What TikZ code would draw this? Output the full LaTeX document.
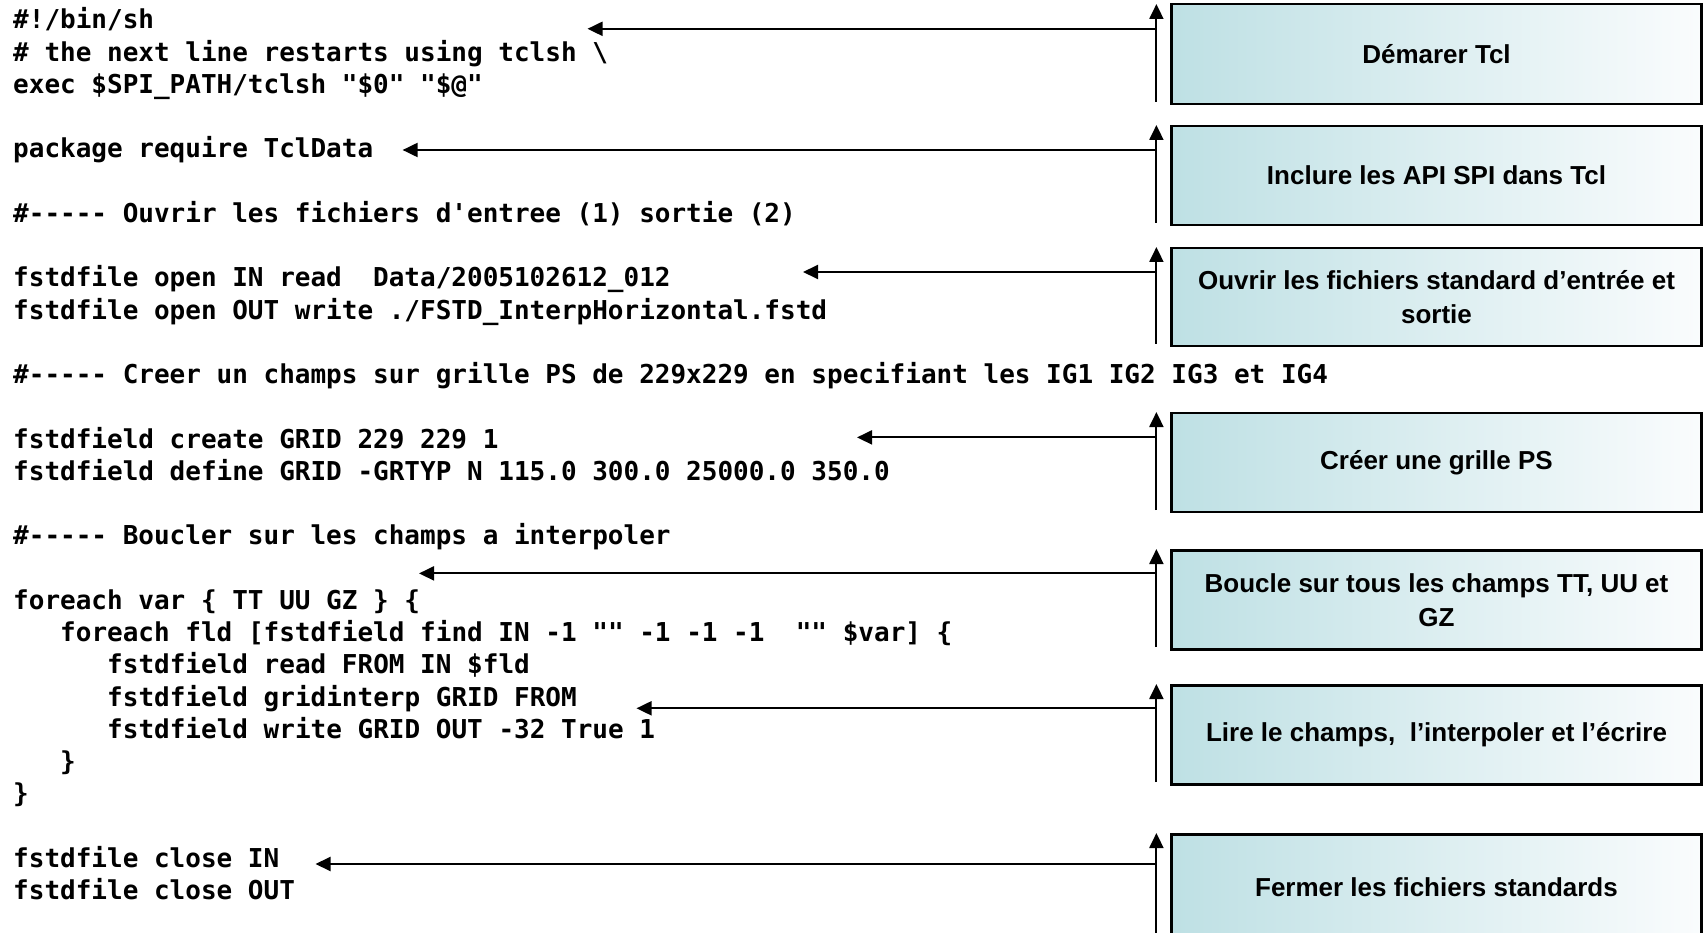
\documentclass[tikz,border=0pt]{standalone}
\usepackage{fontspec}
\setmainfont{Liberation Sans}
\newfontfamily\codefont{DejaVu Sans Mono}
\newfontfamily\boxfont{Liberation Sans}
\usetikzlibrary{arrows.meta}
\definecolor{boxteal}{RGB}{190,224,228}
\definecolor{boxwhite}{RGB}{250,252,253}
\begin{document}
\begin{tikzpicture}[x=1pt,y=-1pt,
  codeline/.style={anchor=base west, inner sep=0pt, font=\codefont\bfseries\fontsize{26}{32}\selectfont},
  stepbox/.style={draw=black, line width=2.6pt, left color=boxteal, right color=boxwhite,
    minimum width=530pt, align=center, inner sep=4pt,
    font=\boxfont\bfseries\fontsize{26}{34}\selectfont},
  conn/.style={line width=2pt, -{Triangle[length=15pt,width=14pt]}}
]
\useasboundingbox (0,0) rectangle (1706,933);
\clip (0,0) rectangle (1706,933);
\fill[white] (0,0) rectangle (1706,933);

% code lines: baseline = 29 + i*32.24
\def\cx{13}
\node[codeline] (l0)  at (\cx, 29.0) {\#!/bin/sh};
\node[codeline] (l1)  at (\cx, 61.2) {\# the next line restarts using tclsh \textbackslash};
\node[codeline] (l2)  at (\cx, 93.5) {exec \$SPI\_PATH/tclsh "\$0" "\$@"};
\node[codeline] (l4)  at (\cx, 158.0) {package require TclData};
\node[codeline] (l6)  at (\cx, 222.4) {\#-{}-{}-{}-{}- Ouvrir les fichiers d\textquotesingle entree (1) sortie (2)};
\node[codeline] (l8)  at (\cx, 286.9) {fstdfile open IN read\ \ Data/2005102612\_012};
\node[codeline] (l9)  at (\cx, 319.2) {fstdfile open OUT write ./FSTD\_InterpHorizontal.fstd};
\node[codeline] (l11) at (\cx, 383.6) {\#-{}-{}-{}-{}- Creer un champs sur grille PS de 229x229 en specifiant les IG1 IG2 IG3 et IG4};
\node[codeline] (l13) at (\cx, 448.1) {fstdfield create GRID 229 229 1};
\node[codeline] (l14) at (\cx, 480.4) {fstdfield define GRID -GRTYP N 115.0 300.0 25000.0 350.0};
\node[codeline] (l16) at (\cx, 544.8) {\#-{}-{}-{}-{}- Boucler sur les champs a interpoler};
\node[codeline] (l18) at (\cx, 609.3) {foreach var \{ TT UU GZ \} \{};
\node[codeline] (l19) at (\cx+47, 641.6) {foreach fld [fstdfield find IN -1 "" -1 -1 -1\ \ "" \$var] \{};
\node[codeline] (l20) at (\cx+94, 673.8) {fstdfield read FROM IN \$fld};
\node[codeline] (l21) at (\cx+94, 706.1) {fstdfield gridinterp GRID FROM};
\node[codeline] (l22) at (\cx+94, 738.3) {fstdfield write GRID OUT -32 True 1};
\node[codeline] (l23) at (\cx+47, 770.5) {\}};
\node[codeline] (l24) at (\cx, 802.8) {\}};
\node[codeline] (l26) at (\cx, 867.0) {fstdfile close IN};
\node[codeline] (l27) at (\cx, 899.5) {fstdfile close OUT};

% boxes
\node[stepbox, minimum height=100pt] (b1) at (1436.5, 54) {Démarer Tcl};
\node[stepbox, minimum height=99pt]  (b2) at (1436.5, 175.5) {Inclure les API SPI dans Tcl};
\node[stepbox, minimum height=98pt]  (b3) at (1436.5, 297) {Ouvrir les fichiers standard d’entrée et\\sortie};
\node[stepbox, minimum height=99pt]  (b4) at (1436.5, 462.5) {Créer une grille PS};
\node[stepbox, minimum height=99pt]  (b5) at (1436.5, 600) {Boucle sur tous les champs TT, UU et\\GZ};
\node[stepbox, minimum height=99pt]  (b6) at (1436.5, 735) {Lire le champs,\ \ l’interpoler et l’écrire};
\node[stepbox, minimum height=106pt] (b7) at (1436.5, 887.5) {Fermer les fichiers standards};

% connectors
\def\vx{1156.4}
\foreach \n/\top/\bot/\hy/\tx in {1/4/102/28.8/587.5, 2/125/223/150/402.6, 3/247/344/272/803,
  4/412/510/437.4/857, 5/549/647/573.4/419, 6/684/782/708.3/636.5, 7/833/940/864/315.5}{
  \coordinate (vb\n) at (\vx,\bot);
  \coordinate (vt\n) at (\vx,\top);
  \coordinate (hs\n) at (\vx,\hy);
  \coordinate (ht\n) at (\tx,\hy);
  \draw[conn] (vb\n) -- (vt\n);
  \draw[conn] (hs\n) -- (ht\n);
}
\end{tikzpicture}
\end{document}
